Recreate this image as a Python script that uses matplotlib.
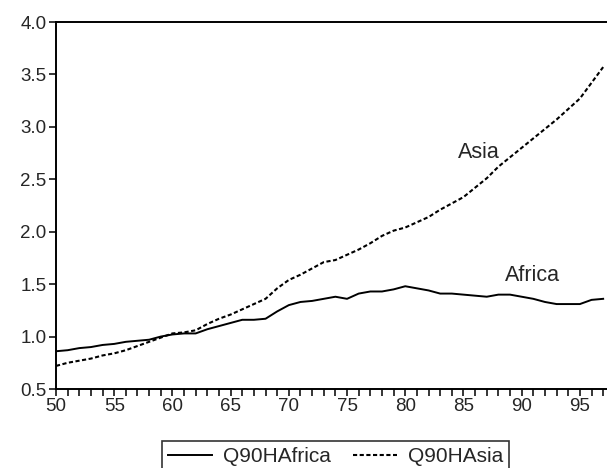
import matplotlib
matplotlib.use("Agg")
import matplotlib.pyplot as plt
import numpy as np

years = list(range(50, 98))
africa = [0.86, 0.87, 0.89, 0.90, 0.92, 0.93, 0.95, 0.96, 0.97, 1.00,
          1.02, 1.03, 1.03, 1.07, 1.10, 1.13, 1.16, 1.16, 1.17, 1.24,
          1.30, 1.33, 1.34, 1.36, 1.38, 1.36, 1.41, 1.43, 1.43, 1.45,
          1.48, 1.46, 1.44, 1.41, 1.41, 1.40, 1.39, 1.38, 1.40, 1.40,
          1.38, 1.36, 1.33, 1.31, 1.31, 1.31, 1.35, 1.36]
asia = [0.72, 0.75, 0.77, 0.79, 0.82, 0.84, 0.87, 0.91, 0.95, 0.99,
        1.03, 1.04, 1.06, 1.12, 1.17, 1.21, 1.26, 1.31, 1.36, 1.46,
        1.54, 1.59, 1.65, 1.71, 1.73, 1.78, 1.83, 1.89, 1.96, 2.01,
        2.04, 2.09, 2.14, 2.21, 2.27, 2.33, 2.42, 2.51, 2.62, 2.71,
        2.80, 2.89, 2.98, 3.07, 3.17, 3.27, 3.42, 3.57]
series_names = ["Q90HAfrica", "Q90HAsia"]
x_labels = ["50", "55", "60", "65", "70", "75", "80", "85", "90", "95"]
y_ticks = [0.5, 1.0, 1.5, 2.0, 2.5, 3.0, 3.5, 4.0]

plt.rcParams['font.family'] = ['Liberation Sans', 'DejaVu Sans']
txt = '#262626'

fig = plt.figure(figsize=(6.07, 4.68), dpi=100)
ax = fig.add_axes([56/607, 1-389/468, 1-56/607, (389-22)/468])

ax.plot(years, africa, color='black', lw=1.4, label=series_names[0])
ax.plot(years, asia, color='black', lw=1.5, linestyle=(0, (2, 1.2)), label=series_names[1])

ax.set_xlim(50, 97.33)
ax.set_ylim(0.5, 4.0)
ax.set_xticks(range(50, 98), minor=True)
ax.set_xticks(range(50, 96, 5))
ax.set_xticklabels(x_labels)
ax.set_yticks(y_ticks)
ax.set_yticklabels([f"{v:.1f}" for v in y_ticks])
ax.tick_params(axis='both', which='both', direction='out', length=5, width=1.1,
               labelsize=13.5, labelcolor=txt, color='black')
ax.tick_params(axis='x', pad=1.5)
ax.tick_params(axis='y', pad=2)
for s in ['left', 'bottom', 'top']:
    ax.spines[s].set_linewidth(1.4)
ax.spines['right'].set_visible(False)

ax.text(84.55, 2.70, "Asia", fontsize=15.5, color=txt, va='baseline', ha='left')
ax.text(88.6, 1.534, "Africa", fontsize=15.5, color=txt, va='baseline', ha='left')

leg = fig.legend(loc='upper center', bbox_to_anchor=(0.553, 1-441/468), ncol=2,
                 frameon=True, fancybox=False, edgecolor='black', fontsize=15,
                 handlelength=2.1, handletextpad=0.5, columnspacing=1.1,
                 borderpad=0.3, borderaxespad=0)
leg.get_frame().set_linewidth(1.2)
for t in leg.get_texts():
    t.set_color(txt)

fig.savefig("out.png", dpi=100)
